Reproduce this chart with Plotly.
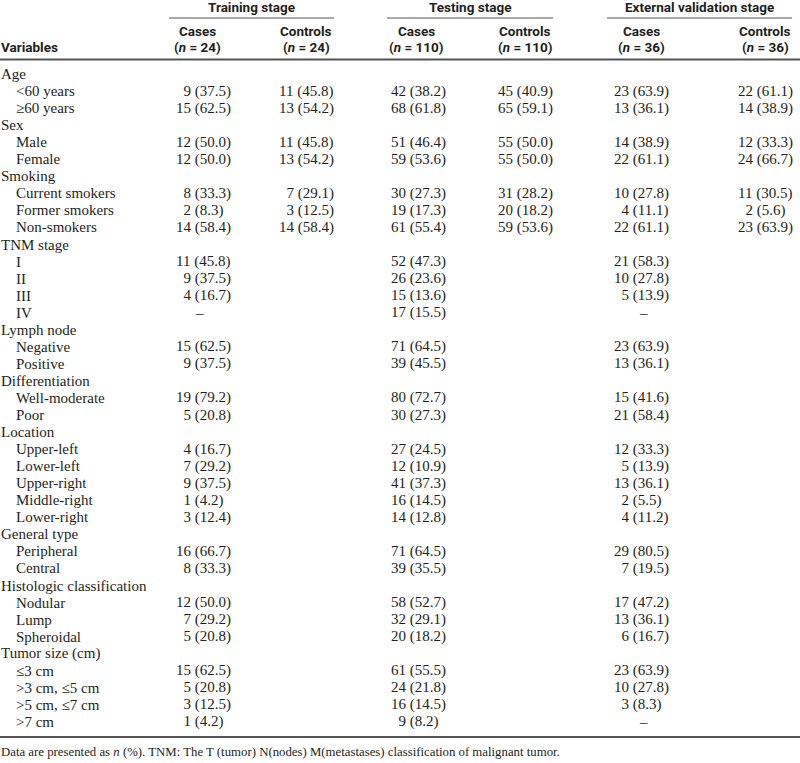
import plotly.graph_objects as go

# ---------------- data ----------------
stages = ["Training stage", "Testing stage", "External validation stage"]
group_labels = ["Cases", "Controls", "Cases", "Controls", "Cases", "Controls"]
group_n = [24, 24, 110, 110, 36, 36]

variables = [
    "Age", "&lt;60 years", "≥60 years",
    "Sex", "Male", "Female",
    "Smoking", "Current smokers", "Former smokers", "Non-smokers",
    "TNM stage", "I", "II", "III", "IV",
    "Lymph node", "Negative", "Positive",
    "Differentiation", "Well-moderate", "Poor",
    "Location", "Upper-left", "Lower-left", "Upper-right", "Middle-right", "Lower-right",
    "General type", "Peripheral", "Central",
    "Histologic classification", "Nodular", "Lump", "Spheroidal",
    "Tumor size (cm)", "≤3 cm", "&gt;3 cm, ≤5 cm", "&gt;5 cm, ≤7 cm", "&gt;7 cm",
]
is_category = [
    True, False, False,
    True, False, False,
    True, False, False, False,
    True, False, False, False, False,
    True, False, False,
    True, False, False,
    True, False, False, False, False, False,
    True, False, False,
    True, False, False, False,
    True, False, False, False, False,
]

train_cases = ["", "9 (37.5)", "15 (62.5)", "", "12 (50.0)", "12 (50.0)", "", "8 (33.3)", "2 (8.3)", "14 (58.4)",
               "", "11 (45.8)", "9 (37.5)", "4 (16.7)", "–", "", "15 (62.5)", "9 (37.5)", "", "19 (79.2)", "5 (20.8)",
               "", "4 (16.7)", "7 (29.2)", "9 (37.5)", "1 (4.2)", "3 (12.4)", "", "16 (66.7)", "8 (33.3)",
               "", "12 (50.0)", "7 (29.2)", "5 (20.8)", "", "15 (62.5)", "5 (20.8)", "3 (12.5)", "1 (4.2)"]
train_controls = ["", "11 (45.8)", "13 (54.2)", "", "11 (45.8)", "13 (54.2)", "", "7 (29.1)", "3 (12.5)", "14 (58.4)",
                  "", "", "", "", "", "", "", "", "", "", "",
                  "", "", "", "", "", "", "", "", "",
                  "", "", "", "", "", "", "", "", ""]
test_cases = ["", "42 (38.2)", "68 (61.8)", "", "51 (46.4)", "59 (53.6)", "", "30 (27.3)", "19 (17.3)", "61 (55.4)",
              "", "52 (47.3)", "26 (23.6)", "15 (13.6)", "17 (15.5)", "", "71 (64.5)", "39 (45.5)", "", "80 (72.7)", "30 (27.3)",
              "", "27 (24.5)", "12 (10.9)", "41 (37.3)", "16 (14.5)", "14 (12.8)", "", "71 (64.5)", "39 (35.5)",
              "", "58 (52.7)", "32 (29.1)", "20 (18.2)", "", "61 (55.5)", "24 (21.8)", "16 (14.5)", "9 (8.2)"]
test_controls = ["", "45 (40.9)", "65 (59.1)", "", "55 (50.0)", "55 (50.0)", "", "31 (28.2)", "20 (18.2)", "59 (53.6)",
                 "", "", "", "", "", "", "", "", "", "", "",
                 "", "", "", "", "", "", "", "", "",
                 "", "", "", "", "", "", "", "", ""]
ext_cases = ["", "23 (63.9)", "13 (36.1)", "", "14 (38.9)", "22 (61.1)", "", "10 (27.8)", "4 (11.1)", "22 (61.1)",
             "", "21 (58.3)", "10 (27.8)", "5 (13.9)", "–", "", "23 (63.9)", "13 (36.1)", "", "15 (41.6)", "21 (58.4)",
             "", "12 (33.3)", "5 (13.9)", "13 (36.1)", "2 (5.5)", "4 (11.2)", "", "29 (80.5)", "7 (19.5)",
             "", "17 (47.2)", "13 (36.1)", "6 (16.7)", "", "23 (63.9)", "10 (27.8)", "3 (8.3)", "–"]
ext_controls = ["", "22 (61.1)", "14 (38.9)", "", "12 (33.3)", "24 (66.7)", "", "11 (30.5)", "2 (5.6)", "23 (63.9)",
                "", "", "", "", "", "", "", "", "", "", "",
                "", "", "", "", "", "", "", "", "",
                "", "", "", "", "", "", "", "", ""]

footnote = ("Data are presented as <i>n</i> (%). TNM: The T (tumor) N(nodes) "
            "M(metastases) classification of malignant tumor.")

# ---------------- layout / style ----------------
W, H = 800, 763
TXT = "#231f20"
LINE = "#555555"
SERIF = "Liberation Serif, Times New Roman, serif"
SANS = "Roboto, Liberation Sans, Arial, sans-serif"

columns = [train_cases, train_controls, test_cases, test_controls, ext_cases, ext_controls]
col_left = [175, 278, 390, 497, 613, 737]        # left edge of values
col_center = [197, 306, 416, 525, 641, 765]      # header centre
stage_span = [(169, 334), (387, 553), (607, 792)]

row0, row_h = 74, 17.05

fig = go.Figure()
ann = []
shapes = []

def add(x, y, text, size, family, anchor="left", bold=False):
    ann.append(dict(x=x, y=y, xref="x", yref="y", text=text, showarrow=False,
                    xanchor=anchor, yanchor="middle", borderpad=0,
                    font=dict(size=size, family=family, color=TXT,
                              weight="bold" if bold else "normal")))

# header
for (a, b), s in zip(stage_span, stages):
    add((a + b) / 2, 7, s, 13.5, SANS, "center", True)
    shapes.append(dict(type="line", xref="x", yref="y", x0=a, x1=b, y0=18, y1=18,
                       line=dict(color=LINE, width=1)))
for c, g, n in zip(col_center, group_labels, group_n):
    add(c, 31, g, 13.5, SANS, "center", True)
    add(c, 47, f"(<i>n</i> = {n})", 13.5, SANS, "center", True)
add(0, 47, "Variables", 13.5, SANS, "left", True)
shapes.append(dict(type="line", xref="x", yref="y", x0=0, x1=W, y0=59.5, y1=59.5,
                   line=dict(color=LINE, width=2)))

# body
for i, (v, cat) in enumerate(zip(variables, is_category)):
    y = row0 + i * row_h
    add(0 if cat else 15, y, v, 15, SERIF)
    for col, xl, xc in zip(columns, col_left, col_center):
        t = col[i]
        if not t:
            continue
        if t == "–":
            add(xc + 2, y, t, 15, SERIF, "center")
        else:
            cnt = t.split(" ")[0]
            if len(cnt) == 1:
                t = "\u2007" + t
            add(xl, y, t, 15, SERIF)

y_last = row0 + (len(variables) - 1) * row_h
shapes.append(dict(type="line", xref="x", yref="y", x0=0, x1=W, y0=y_last + 15, y1=y_last + 15,
                   line=dict(color=LINE, width=2)))
add(0, y_last + 30, footnote, 12.8, SERIF)

fig.update_layout(
    width=W, height=H, margin=dict(l=0, r=0, t=0, b=0),
    paper_bgcolor="white", plot_bgcolor="white",
    xaxis=dict(range=[0, W], visible=False, fixedrange=True),
    yaxis=dict(range=[H, 0], visible=False, fixedrange=True),
    annotations=ann, shapes=shapes, showlegend=False,
)
fig.write_html(
    "out.html",
    config={"displayModeBar": False},
    post_script="document.body.style.margin='0';document.body.style.overflow='hidden';",
)
